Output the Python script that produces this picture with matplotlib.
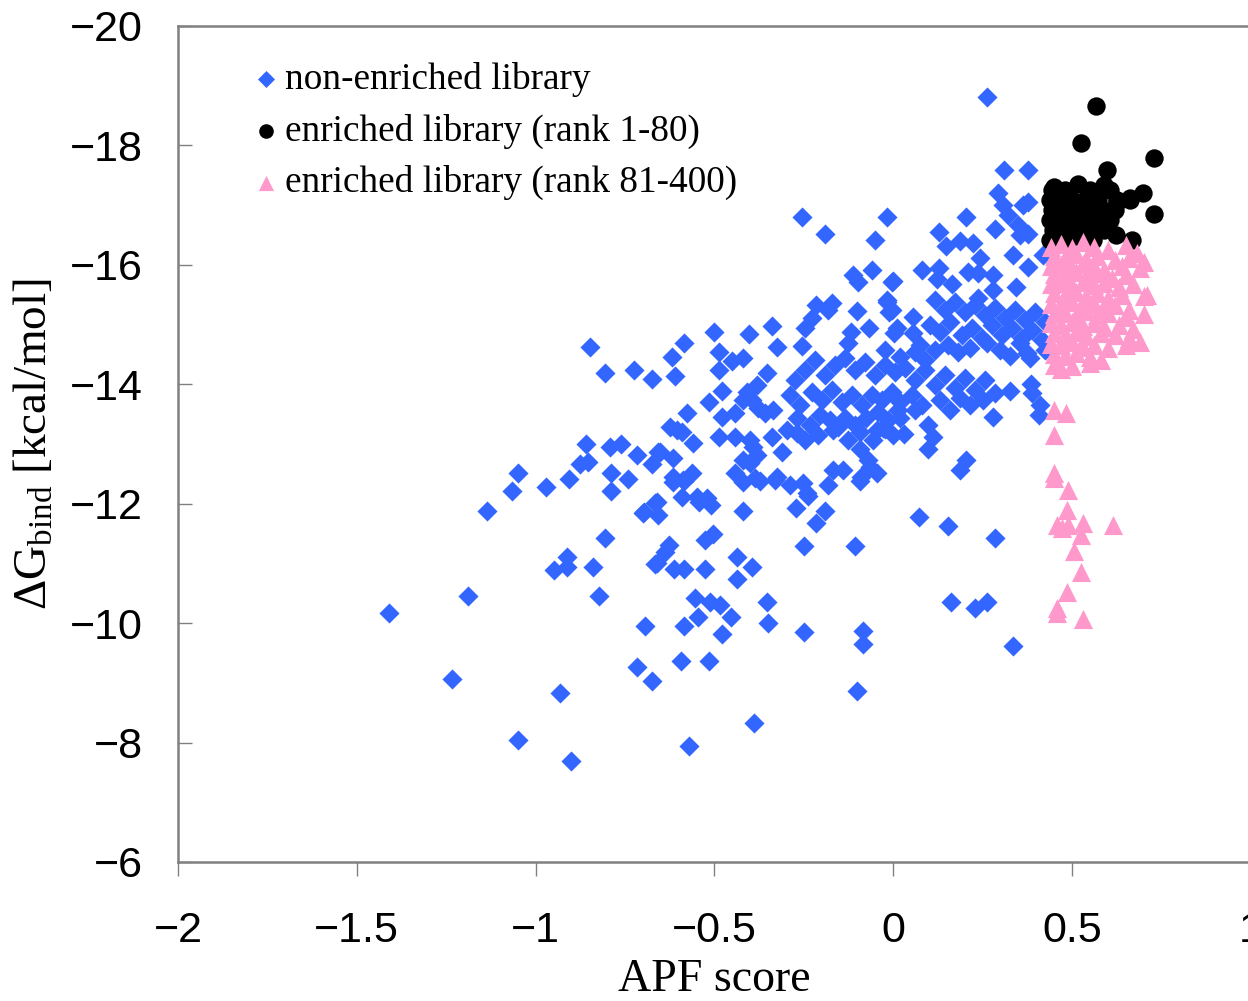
import matplotlib
matplotlib.use("Agg")
import matplotlib.pyplot as plt
import numpy as np

# ---------------- data ----------------
blue_x = [
    -0.849, -0.807, -0.726, -0.676, -0.858, -0.793, -0.760, -0.718, -0.676, -0.659,
    -0.877, -0.855, -1.048, -1.065, -0.972, -0.908, -0.790, -0.743, -0.790, -1.137,
    -0.701, -0.667, -0.807, -0.913, -0.950, -0.913, -0.841, -0.665, -1.188, -0.824,
    -1.409, -0.693, -0.718, -0.676, -1.235, -0.933, -1.048, -0.900,
    -0.617, -0.584, -0.421, -0.374, -0.332, -0.290, -0.253, -0.183, -0.094, -0.662,
    -0.696, -0.659, -0.592, -0.550, -0.542, -0.511, -0.421, -0.273, -0.239, -0.192,
    -0.217, -0.505, -0.527, -0.628, -0.637, -0.662, -0.612, -0.584, -0.527, -0.438,
    -0.396, -0.438, -0.250, -0.108, -0.555, -0.513, -0.485, -0.547, -0.455, -0.354,
    -0.349, -0.586, -0.480, -0.251, -0.086, -0.086, -0.595, -0.514, -0.102, -0.390,
    -0.570,
    0.284, 0.326, 0.384, 0.387, 0.410, 0.407, 0.278, -0.024, 0.029, 0.096,
    0.110, 0.096, 0.203, 0.186, 0.071, 0.152, 0.284, 0.161, 0.228, 0.261, 0.334,
    0.261, 0.309, 0.376, 0.292, 0.306, 0.320, 0.362, 0.376, -0.019, 0.203,
    0.284, 0.348, 0.354, 0.376, 0.127, 0.186, 0.222, 0.147, 0.242, 0.334,
    0.418, 0.376, 0.079, 0.127, 0.121, 0.208, 0.236, 0.278, 0.163, -0.002,
    0.342, 0.236, 0.278, -0.019, -0.005, 0.054, 0.009, 0.054, 0.261, 0.354, 0.373,
    -0.256, -0.192, -0.052, -0.114, -0.100, -0.061, -0.005, -0.217, -0.172, -0.183,
    -0.102, -0.019, -0.013, -0.228, -0.248, -0.340, -0.502, -0.404, -0.119, -0.069,
    0.001, -0.324, -0.256, -0.586, -0.128, -0.620, -0.488, -0.452, -0.421, -0.488,
    -0.611, -0.354, -0.382, -0.410, -0.421, -0.480, -0.514, -0.577, -0.480, -0.443,
    -0.396, -0.379, -0.360, -0.337, -0.625, -0.606, -0.592, -0.486, -0.443, -0.561,
    -0.402, -0.393, -0.382, -0.340, -0.312, -0.653, -0.617, -0.094, -0.058, -0.047,
    -0.030, -0.298, -0.268, -0.170, -0.156, -0.421, -0.402, -0.617, -0.589, -0.564,
    -0.443, -0.387, -0.326, -0.242, -0.170, -0.142, -0.089, -0.066, -0.047, -0.072,
    -0.521,
    -0.276, -0.248, -0.220, -0.192, -0.164, -0.136, -0.108, -0.080, -0.052, -0.024,
    0.004, -0.290, -0.262, -0.228, -0.200, -0.172, -0.144, -0.116, -0.088, -0.060,
    -0.032, -0.004, -0.268, -0.234, -0.206, -0.178, -0.136, -0.108, -0.077, -0.044,
    -0.016, 0.012, -0.248, -0.211, -0.128, -0.094, -0.002,
    0.116, 0.144, 0.172, 0.200, 0.228, 0.256, 0.284, 0.312, 0.340, 0.368,
    0.396, 0.424, 0.102, 0.130, 0.158, 0.191, 0.219, 0.247, 0.275, 0.303,
    0.331, 0.359, 0.387, 0.415, 0.074, 0.116, 0.152, 0.180, 0.214, 0.298,
    0.326, 0.382, 0.424, 0.032, 0.060, 0.088, 0.116, 0.144, 0.172, 0.200,
    0.228, 0.256, 0.018, 0.052, 0.080, 0.130, 0.158, 0.186, 0.214, 0.250,
    0.018, 0.062, -0.024, 0.018, 0.060, 0.088,
]
blue_y = [
    -14.62, -14.19, -14.24, -14.09, -13.00, -12.95, -13.00, -12.81, -12.66, -12.86,
    -12.66, -12.70, -12.51, -12.21, -12.28, -12.41, -12.51, -12.41, -12.21, -11.88,
    -11.84, -12.01, -11.42, -11.11, -10.89, -10.94, -10.94, -10.99, -10.45, -10.45,
    -10.17, -9.95, -9.26, -9.03, -9.06, -8.83, -8.04, -7.69,
    -12.36, -12.38, -12.36, -12.38, -12.40, -12.31, -12.34, -12.31, -12.38, -12.03,
    -11.86, -11.81, -12.11, -12.11, -12.03, -11.98, -11.88, -11.93, -12.13, -11.88,
    -11.67, -11.49, -11.39, -11.31, -11.19, -11.01, -10.90, -10.90, -10.90, -11.11,
    -10.94, -10.74, -11.29, -11.29, -10.42, -10.35, -10.30, -10.10, -10.10, -10.35,
    -10.00, -9.95, -9.82, -9.85, -9.87, -9.65, -9.36, -9.36, -8.86, -8.32,
    -7.94,
    -13.85, -13.89, -14.00, -13.85, -13.65, -13.48, -13.45, -13.25, -13.17, -13.32,
    -13.12, -12.91, -12.73, -12.56, -11.78, -11.62, -11.42, -10.35, -10.25, -10.35, -9.61,
    -18.81, -17.59, -17.59, -17.20, -17.00, -16.83, -17.00, -17.05, -16.80, -16.80,
    -16.60, -16.67, -16.50, -16.52, -16.55, -16.40, -16.37, -16.31, -16.11, -16.16,
    -16.16, -15.96, -15.91, -15.95, -15.76, -15.88, -15.86, -15.83, -15.68, -15.73,
    -15.63, -15.44, -15.58, -15.38, -15.24, -15.13, -14.94, -14.86, -14.69, -14.69, -14.52,
    -16.80, -16.52, -16.42, -15.83, -15.71, -15.91, -15.71, -15.33, -15.36, -15.24,
    -15.23, -15.41, -15.21, -15.11, -14.94, -14.97, -14.87, -14.84, -14.87, -14.94,
    -14.86, -14.62, -14.64, -14.69, -14.69, -14.46, -14.54, -14.39, -14.44, -14.24,
    -14.14, -14.19, -13.99, -13.87, -13.74, -13.89, -13.70, -13.52, -13.45, -13.52,
    -13.74, -13.60, -13.52, -13.57, -13.28, -13.23, -13.20, -13.12, -13.12, -13.02,
    -13.07, -12.95, -12.81, -13.12, -12.86, -12.86, -12.76, -12.91, -13.07, -13.23,
    -13.27, -13.23, -13.18, -13.23, -13.28, -12.73, -12.68, -12.45, -12.40, -12.51,
    -12.51, -12.43, -12.45, -12.18, -12.56, -12.56, -12.45, -12.61, -12.51, -12.73,
    -12.09,
    -14.07, -14.24, -14.41, -14.15, -14.32, -14.44, -14.24, -14.37, -14.15, -14.32,
    -14.20, -13.82, -13.65, -13.87, -13.74, -13.90, -13.70, -13.82, -13.65, -13.82,
    -13.74, -13.87, -13.43, -13.32, -13.48, -13.40, -13.43, -13.32, -13.43, -13.53,
    -13.40, -13.57, -13.07, -13.15, -13.07, -13.20, -13.15,
    -15.41, -15.24, -15.38, -15.21, -15.33, -15.16, -15.28, -15.11, -15.24, -15.08,
    -15.21, -15.04, -14.99, -14.87, -15.04, -14.82, -14.94, -14.77, -14.99, -14.82,
    -14.94, -14.77, -14.91, -14.74, -14.66, -14.57, -14.66, -14.54, -14.61, -14.57,
    -14.47, -14.44, -14.57, -14.27, -14.07, -14.24, -13.99, -14.15, -13.94, -14.10,
    -13.90, -14.07, -13.70, -13.82, -13.65, -13.74, -13.57, -13.77, -13.65, -13.74,
    -13.43, -13.57, -14.57, -14.46, -14.54, -14.41,
]

black_x = [
    0.566, 0.524, 0.729, 0.597, 0.449, 0.516, 0.589, 0.698, 0.729, 0.622, 0.667,
    0.661, 0.625,
    0.443, 0.480, 0.550, 0.605,
    0.438, 0.466, 0.500, 0.536, 0.572, 0.625, 0.661,
    0.443, 0.477, 0.514, 0.550, 0.586, 0.619,
    0.438, 0.471, 0.505, 0.539, 0.572, 0.605,
    0.446, 0.483, 0.519, 0.555, 0.589,
    0.438, 0.474, 0.516, 0.558,
]
black_y = [
    -18.66, -18.04, -17.79, -17.59, -17.30, -17.35, -17.34, -17.20, -16.85, -16.50, -16.42,
    -17.12, -17.05,
    -17.25, -17.25, -17.25, -17.25,
    -17.09, -17.09, -17.09, -17.09, -17.09, -17.09, -17.09,
    -16.92, -16.92, -16.92, -16.92, -16.92, -16.92,
    -16.75, -16.75, -16.75, -16.75, -16.75, -16.75,
    -16.58, -16.58, -16.58, -16.58, -16.58,
    -16.42, -16.42, -16.42, -16.42,
]

pink_x = [
    0.44, 0.47, 0.50, 0.53, 0.56, 0.60, 0.65, 0.68,
    0.45, 0.48, 0.51, 0.54, 0.57, 0.62, 0.66, 0.70,
    0.44, 0.47, 0.50, 0.53, 0.56, 0.59, 0.64, 0.69,
    0.45, 0.48, 0.51, 0.54, 0.57, 0.61, 0.65,
    0.44, 0.47, 0.50, 0.53, 0.56, 0.59, 0.63, 0.67, 0.71,
    0.45, 0.48, 0.51, 0.54, 0.57, 0.60, 0.64, 0.70,
    0.44, 0.47, 0.50, 0.53, 0.56, 0.59, 0.62, 0.66,
    0.45, 0.48, 0.51, 0.54, 0.57, 0.60, 0.65, 0.70,
    0.44, 0.47, 0.50, 0.53, 0.56, 0.59, 0.63, 0.67,
    0.45, 0.48, 0.51, 0.54, 0.58, 0.62, 0.66, 0.69,
    0.44, 0.47, 0.50, 0.53, 0.56, 0.60, 0.65,
    0.45, 0.48, 0.51, 0.55, 0.58,
    0.45, 0.47, 0.50, 0.55,
    0.448, 0.483, 0.450, 0.450, 0.450, 0.489, 0.485, 0.457, 0.488, 0.471,
    0.530, 0.524, 0.614, 0.505, 0.524, 0.485, 0.457, 0.457, 0.530,
]
pink_y = [
    -16.30, -16.35, -16.28, -16.38, -16.30, -16.25, -16.33, -16.20,
    -16.15, -16.12, -16.18, -16.10, -16.15, -16.08, -16.12, -16.05,
    -15.98, -16.00, -15.95, -16.02, -15.97, -15.92, -15.98, -15.95,
    -15.85, -15.82, -15.88, -15.80, -15.86, -15.78, -15.83,
    -15.68, -15.70, -15.65, -15.72, -15.66, -15.70, -15.62, -15.68, -15.50,
    -15.52, -15.50, -15.55, -15.48, -15.52, -15.45, -15.50, -15.48,
    -15.35, -15.32, -15.38, -15.30, -15.35, -15.28, -15.33, -15.25,
    -15.18, -15.20, -15.15, -15.22, -15.16, -15.20, -15.12, -15.18,
    -15.02, -15.00, -15.05, -14.98, -15.03, -14.96, -15.00, -14.92,
    -14.85, -14.82, -14.88, -14.80, -14.85, -14.82, -14.78, -14.70,
    -14.68, -14.65, -14.70, -14.62, -14.66, -14.60, -14.65,
    -14.50, -14.48, -14.52, -14.45, -14.40,
    -14.32, -14.25, -14.30, -14.35,
    -13.57, -13.52, -13.15, -12.51, -12.43, -12.23, -11.89, -11.64, -11.64, -11.59,
    -11.67, -11.47, -11.64, -11.21, -10.85, -10.52, -10.25, -10.17, -10.07,
]

labels = ["non-enriched library", "enriched library (rank 1-80)",
          "enriched library (rank 81-400)"]
x_ticks = [-2, -1.5, -1, -0.5, 0, 0.5, 1]
x_ticklabels = ['\u22122', '\u22121.5', '\u22121', '\u22120.5', '0', '0.5', '1']
y_ticks = [-20, -18, -16, -14, -12, -10, -8, -6]
y_ticklabels = ['\u221220', '\u221218', '\u221216', '\u221214', '\u221212',
                '\u221210', '\u22128', '\u22126']

# ---------------- style ----------------
plt.rcParams['font.family'] = ['Liberation Serif', 'DejaVu Serif']
plt.rcParams['mathtext.fontset'] = 'custom'
plt.rcParams['mathtext.rm'] = 'Liberation Serif'
plt.rcParams['mathtext.it'] = 'Liberation Serif:italic'

BLUE = '#3366FF'
PINK = '#FF99CC'
SPINE = '#808080'

fig = plt.figure(figsize=(12.48, 10.01), dpi=100)
ax = fig.add_axes([0.1426, 0.1389, 0.8598, 0.8352])

ax.scatter(blue_x, blue_y, marker='D', s=105, color=BLUE, linewidths=0,
           label=labels[0], zorder=2)
ax.scatter(black_x, black_y, marker='o', s=175, color='black', linewidths=0,
           label=labels[1], zorder=3)
ax.scatter(pink_x, pink_y, marker='^', s=190, color=PINK, linewidths=0,
           label=labels[2], zorder=4)

ax.set_xlim(-2, 1)
ax.set_ylim(-6, -20)

ax.set_xticks(x_ticks)
ax.set_xticklabels(x_ticklabels)
ax.set_yticks(y_ticks)
ax.set_yticklabels(y_ticklabels)

tick_font = ['Liberation Sans Narrow', 'Liberation Sans', 'DejaVu Sans']
for lab in ax.get_xticklabels() + ax.get_yticklabels():
    lab.set_fontfamily(tick_font)
    lab.set_fontsize(31)

ax.tick_params(axis='x', direction='out', length=10, width=1, color=SPINE, pad=25)
ax.tick_params(axis='y', direction='in', length=10, width=1, color=SPINE, pad=25)

for side in ['left', 'bottom', 'top', 'right']:
    ax.spines[side].set_color(SPINE)
    ax.spines[side].set_linewidth(1.8)

ax.set_xlabel('APF score', fontsize=33, labelpad=6)
ax.set_ylabel(r'$\Delta$G$_{\mathrm{bind}}$ [kcal/mol]', fontsize=34, labelpad=10)

leg = ax.legend(loc='upper left', bbox_to_anchor=(0.058, 0.975), frameon=False,
                fontsize=26.8, handlelength=0.6, handletextpad=0.2,
                labelspacing=0.45, borderaxespad=0.0)
for h, s in zip(leg.legend_handles, [75, 110, 120]):
    h.set_sizes([s])

fig.savefig('out.png', dpi=100)
